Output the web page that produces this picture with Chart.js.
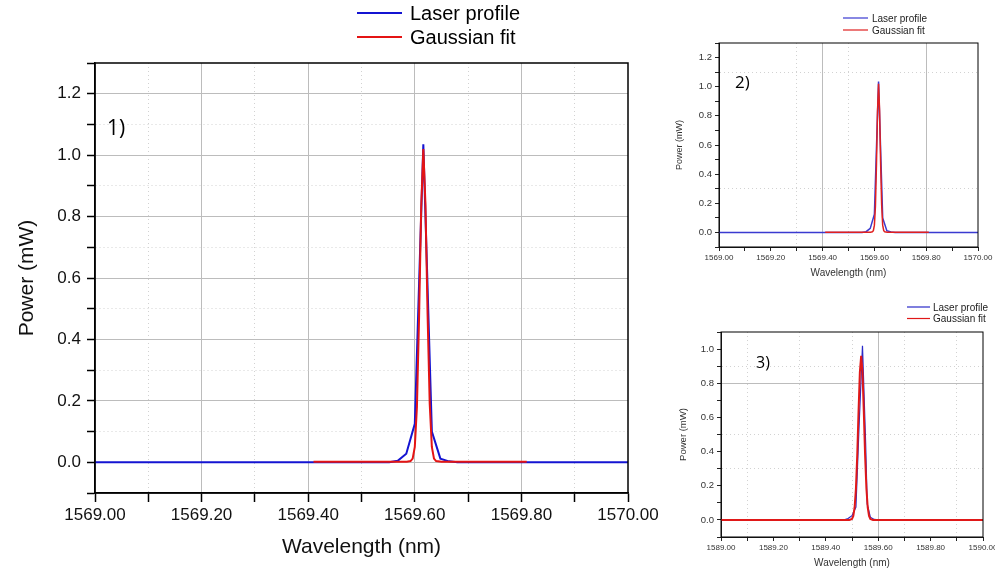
<!DOCTYPE html>
<html>
<head>
<meta charset="utf-8">
<title>Laser profile and Gaussian fit</title>
<script src="https://cdn.jsdelivr.net/npm/chart.js@4.4.1/dist/chart.umd.min.js"></script>
<style>
  html, body { margin: 0; padding: 0; background: #fff; overflow: hidden; width: 995px; height: 571px; }
  canvas { position: absolute; }
  #c1 { left: 0; top: 0; }
  #c2 { left: 670px; top: 0; }
  #c3 { left: 670px; top: 290px; }
</style>
</head>
<body>
<canvas id="c1" width="670" height="571"></canvas>
<canvas id="c2" width="325" height="290"></canvas>
<canvas id="c3" width="340" height="281"></canvas>
<script>
// panel 1) and 2): same measurement around 1569.6 nm
var laserWl1  = [1569.00, 1569.552, 1569.568, 1569.584, 1569.600, 1569.616, 1569.632, 1569.648, 1569.664, 1569.680, 1570.00];
var laserPow1 = [0, 0, 0.005, 0.028, 0.125, 1.035, 0.100, 0.012, 0.003, 0, 0];
var fitWl1  = [1569.41, 1569.585, 1569.592, 1569.596, 1569.600, 1569.604, 1569.608, 1569.612, 1569.616,
               1569.620, 1569.624, 1569.628, 1569.632, 1569.636, 1569.640, 1569.650, 1569.81];
var fitPow1 = [0.002, 0.002, 0.004, 0.012, 0.05, 0.18, 0.47, 0.83, 1.02, 0.84, 0.48, 0.19, 0.05, 0.012, 0.004, 0.002, 0.002];

// panel 3): around 1589.5 nm
var laserWl3  = [1589.00, 1589.470, 1589.485, 1589.500, 1589.515, 1589.527, 1589.540, 1589.552, 1589.558, 1589.570, 1589.585, 1589.600, 1590.00];
var laserPow3 = [0, 0, 0.008, 0.025, 0.075, 0.55, 1.02, 0.45, 0.094, 0.016, 0.003, 0, 0];
var fitWl3  = [1589.00, 1589.49, 1589.50, 1589.505, 1589.51, 1589.515, 1589.52, 1589.525, 1589.53, 1589.535,
               1589.54, 1589.545, 1589.55, 1589.555, 1589.56, 1589.565, 1589.57, 1589.58, 1590.00];
var fitPow3 = [0, 0, 0.006, 0.023, 0.073, 0.184, 0.379, 0.636, 0.866, 0.96, 0.866, 0.636, 0.379, 0.184, 0.073, 0.023, 0.006, 0, 0];

var seriesNames = ['Laser profile', 'Gaussian fit'];
var panelTags = ['1)', '2)', '3)'];

Chart.defaults.font.family = 'Arial, "Liberation Sans", sans-serif';
Chart.defaults.devicePixelRatio = 1;

function pts(xs, ys) {
  return xs.map(function (x, i) { return { x: x, y: ys[i] }; });
}
function near(v, list) {
  return list.some(function (a) { return Math.abs(a - v) < 1e-6; });
}
function tenth(v, base) {
  return Math.abs(Math.round((v - base) * 10)) % 2 === 0;
}

/* draws the box, the legend and the panel number */
var decor = {
  id: 'decor',
  afterDraw: function (chart, args, o) {
    var ctx = chart.ctx, a = chart.chartArea;
    ctx.save();
    ctx.strokeStyle = '#000';
    ctx.lineWidth = o.frame;
    ctx.strokeRect(a.left, a.top, a.right - a.left, a.bottom - a.top);

    ctx.fillStyle = '#000';
    ctx.textAlign = 'left';
    ctx.textBaseline = 'middle';
    ctx.font = o.tagFont;
    ctx.fillText(o.tag, o.tagX, o.tagY);

    chart.data.datasets.forEach(function (ds, i) {
      var y = o.legY + i * o.legGap;
      ctx.strokeStyle = ds.borderColor;
      ctx.lineWidth = o.legLine;
      ctx.beginPath();
      ctx.moveTo(o.legX, y);
      ctx.lineTo(o.legX + o.legLen, y);
      ctx.stroke();
      ctx.fillStyle = o.legColor;
      ctx.font = o.legFont;
      ctx.fillText(ds.label, o.legX + o.legLen + o.legPad, y + 1);
    });
    ctx.restore();
  }
};

function axis(p) {
  return {
    type: 'linear',
    min: p.min, max: p.max,
    afterFit: function (s) { if (p.width) s.width = p.width; if (p.height) s.height = p.height; },
    ticks: {
      stepSize: 0.1, autoSkip: false, maxRotation: 0, padding: p.pad,
      color: p.color, font: { size: p.tickSize },
      callback: function (v) { return tenth(v, p.min + (p.labelShift || 0)) ? (Math.round(v * 10) / 10).toFixed(p.digits) : ''; }
    },
    grid: {
      color: function (c) {
        var k = c.tick ? p.kind(c.tick.value) : null;
        return k === 'solid' ? '#bcbcbc' : k === 'dot' ? '#d2d2d2' : 'rgba(0,0,0,0)';
      },
      lineWidth: 1,
      tickColor: p.tickColor, tickLength: p.tickLen, tickWidth: p.tickW, tickBorderDash: []
    },
    border: {
      display: true, color: p.tickColor, width: p.tickW,
      dash: function (c) { return (c.tick && p.kind(c.tick.value) === 'dot') ? [1, 3] : []; }
    },
    title: {
      display: true, text: p.title, color: p.color,
      font: { size: p.titleSize }, padding: p.titlePad
    }
  };
}

function panel(id, data, x, y, deco, pad, lw) {
  return new Chart(document.getElementById(id), {
    type: 'line',
    data: {
      datasets: [
        { label: seriesNames[0], data: pts(data[0], data[1]), borderColor: data[4], borderWidth: lw[0], order: 1 },
        { label: seriesNames[1], data: pts(data[2], data[3]), borderColor: data[5], borderWidth: lw[1], order: 0 }
      ]
    },
    options: {
      responsive: false, animation: false, parsing: true,
      layout: { padding: pad },
      elements: { point: { radius: 0 }, line: { tension: 0 } },
      plugins: { legend: { display: false }, tooltip: { enabled: false }, decor: deco },
      scales: { x: axis(x), y: axis(y) }
    },
    plugins: [decor]
  });
}

// 1) main panel
panel('c1', [laserWl1, laserPow1, fitWl1, fitPow1, '#1414d2', '#e41414'],
  { min: 1569, max: 1570, digits: 2, height: 78, pad: 3, tickSize: 17, color: '#111', tickColor: '#000', tickLen: 9, tickW: 1.5,
    title: 'Wavelength (nm)', titleSize: 21, titlePad: { top: 0, bottom: 11 },
    kind: function (v) { return near(v, [1569, 1570]) ? null : (tenth(v, 1569) ? 'solid' : 'dot'); } },
  { min: -0.1, max: 1.3, digits: 1, labelShift: 0.1, width: 95, pad: 6, tickSize: 17, color: '#111', tickColor: '#000', tickLen: 8, tickW: 1.5,
    title: 'Power (mW)', titleSize: 21, titlePad: { top: 15, bottom: 0 },
    kind: function (v) { return (v < -0.05 || v > 1.25) ? null : (tenth(v, 0) ? 'solid' : 'dot'); } },
  { frame: 1.5, tag: panelTags[0], tagFont: '21px "Open Sans"', tagX: 107, tagY: 129,
    legX: 357, legY: 13, legGap: 24, legLen: 45, legPad: 8, legLine: 2, legFont: '20px Arial, "Liberation Sans"', legColor: '#000' },
  { left: 0, top: 63, right: 42, bottom: 0 }, [2, 2]);

// 2) small copy of the same scan
panel('c2', [laserWl1, laserPow1, fitWl1, fitPow1, '#3a3ad0', '#e02020'],
  { min: 1569, max: 1570, digits: 2, height: 43, pad: 2, tickSize: 8, color: '#333', tickColor: '#222', tickLen: 4, tickW: 1,
    title: 'Wavelength (nm)', titleSize: 10, titlePad: { top: 0, bottom: 10.5 },
    kind: function (v) { return near(v, [1569.4, 1569.8]) ? 'solid' : (near(v, [1569.3, 1569.5]) ? 'dot' : null); } },
  { min: -0.1, max: 1.3, digits: 1, labelShift: 0.1, width: 49, pad: 3, tickSize: 9.5, color: '#333', tickColor: '#222', tickLen: 4, tickW: 1,
    title: 'Power (mW)', titleSize: 9, titlePad: { top: 4.5, bottom: 0 },
    kind: function (v) { return near(v, [1.1, 0.3]) ? 'dot' : null; } },
  { frame: 1, tag: panelTags[1], tagFont: '17px "Open Sans"', tagX: 65, tagY: 83,
    legX: 173, legY: 18, legGap: 12, legLen: 25, legPad: 4, legLine: 1.2, legFont: '10px Arial, "Liberation Sans"', legColor: '#222' },
  { left: 0, top: 43, right: 17, bottom: 0 }, [1.5, 1.5]);

// 3) second line around 1589.5 nm
panel('c3', [laserWl3, laserPow3, fitWl3, fitPow3, '#2a2ac8', '#e01818'],
  { min: 1589, max: 1590, digits: 2, height: 34, pad: 2, tickSize: 8, color: '#333', tickColor: '#222', tickLen: 4, tickW: 1,
    title: 'Wavelength (nm)', titleSize: 10, titlePad: { top: 0, bottom: 1.5 },
    kind: function (v) { return near(v, [1589.6]) ? 'solid' : (near(v, [1589.1, 1589.3, 1589.5, 1589.7, 1589.9]) ? 'dot' : null); } },
  { min: -0.1, max: 1.1, digits: 1, labelShift: 0.1, width: 51, pad: 3, tickSize: 9.5, color: '#333', tickColor: '#222', tickLen: 4, tickW: 1,
    title: 'Power (mW)', titleSize: 9.5, titlePad: { top: 7.5, bottom: 0 },
    kind: function (v) { return near(v, [0.8]) ? 'solid' : (near(v, [0.9, 0.5, 0.3]) ? 'dot' : null); } },
  { frame: 1, tag: panelTags[2], tagFont: '16px "Open Sans"', tagX: 86, tagY: 73,
    legX: 237, legY: 17, legGap: 11.5, legLen: 23, legPad: 3, legLine: 1.2, legFont: '10px Arial, "Liberation Sans"', legColor: '#222' },
  { left: 0, top: 42, right: 27, bottom: 0 }, [1.2, 2]);
</script>
</body>
</html>
